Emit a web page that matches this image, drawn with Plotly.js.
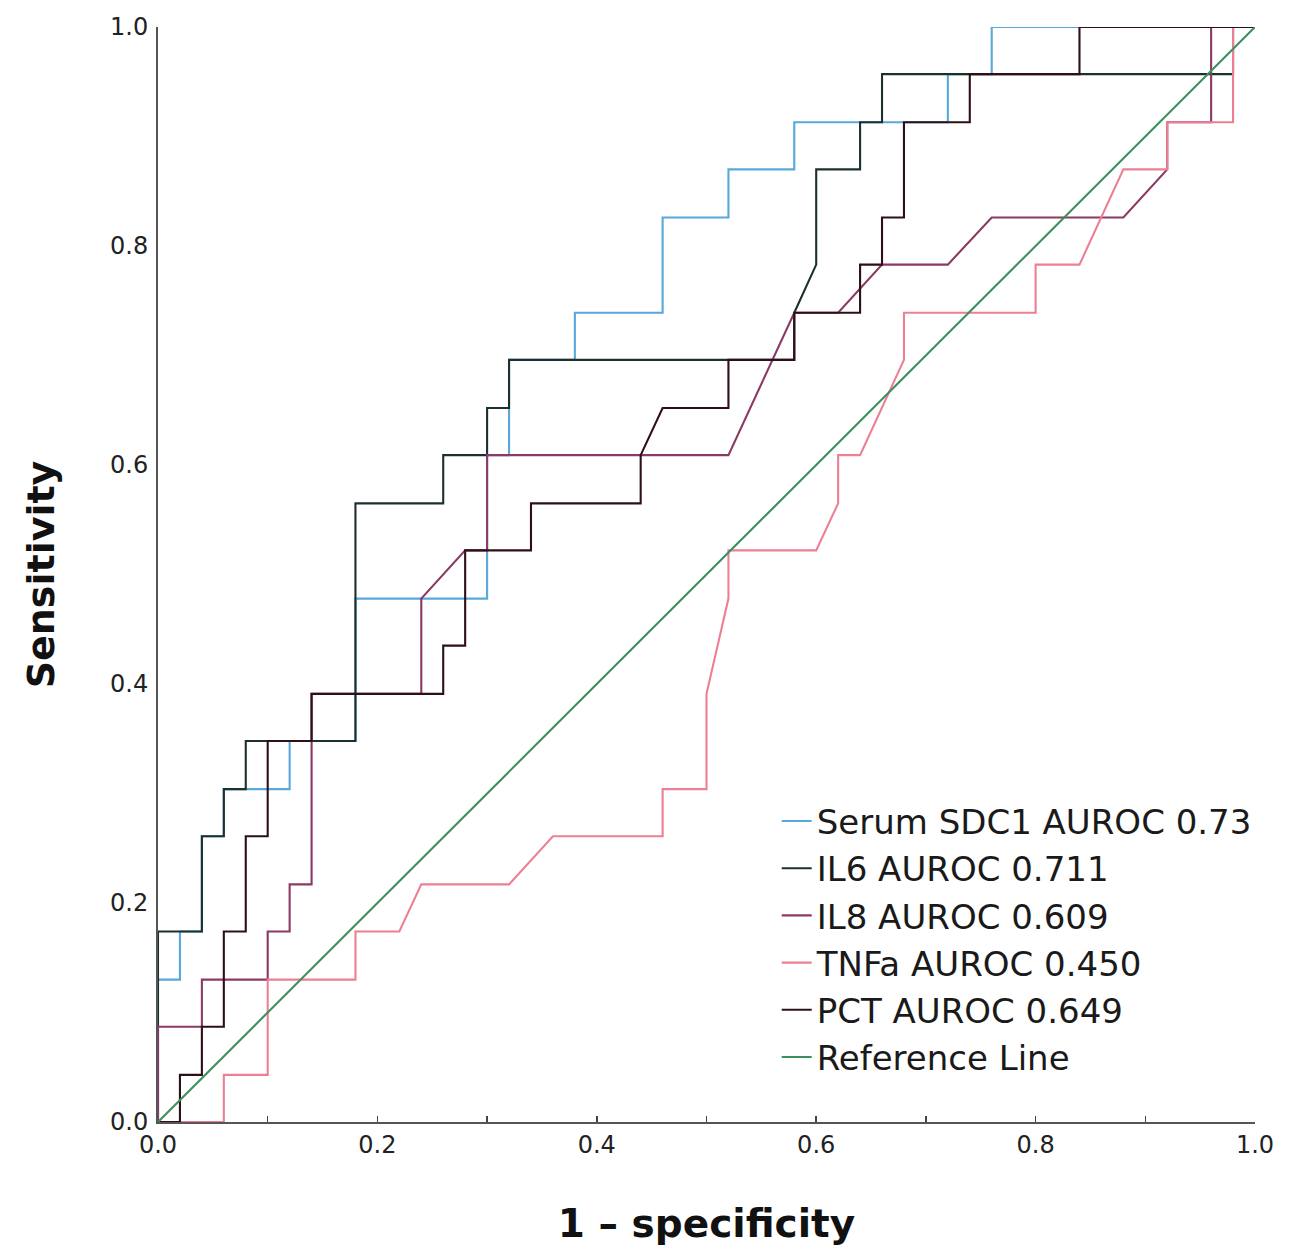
<!DOCTYPE html>
<html>
<head>
<meta charset="utf-8">
<script src="https://cdn.plot.ly/plotly-3.0.1.min.js"></script>
<style>html,body{margin:0;padding:0;background:#fff;}#chart{width:1291px;height:1257px;}</style>
</head>
<body>
<div id="chart"></div>
<script>
// ROC curve points (1 - specificity, sensitivity)
const sdc1X = [0,0,0.02,0.02,0.04,0.04,0.06,0.06,0.12,0.12,0.18,0.18,0.30,0.30,0.32,0.32,0.38,0.38,0.46,0.46,0.52,0.52,0.58,0.58,0.72,0.72,0.76,0.76,1];
const sdc1Y = [0,0.130,0.130,0.174,0.174,0.261,0.261,0.304,0.304,0.348,0.348,0.478,0.478,0.609,0.609,0.696,0.696,0.739,0.739,0.826,0.826,0.870,0.870,0.913,0.913,0.957,0.957,1,1];

const il6X = [0,0,0.04,0.04,0.06,0.06,0.08,0.08,0.18,0.18,0.26,0.26,0.30,0.30,0.32,0.32,0.58,0.58,0.60,0.60,0.64,0.64,0.66,0.66,0.98,0.98,1];
const il6Y = [0,0.174,0.174,0.261,0.261,0.304,0.304,0.348,0.348,0.565,0.565,0.609,0.609,0.652,0.652,0.696,0.696,0.739,0.783,0.870,0.870,0.913,0.913,0.957,0.957,1,1];

const il8X = [0,0,0.04,0.04,0.10,0.10,0.12,0.12,0.14,0.14,0.24,0.24,0.28,0.30,0.30,0.52,0.58,0.62,0.66,0.72,0.76,0.88,0.92,0.92,0.96,0.96,1];
const il8Y = [0,0.087,0.087,0.130,0.130,0.174,0.174,0.217,0.217,0.391,0.391,0.478,0.522,0.522,0.609,0.609,0.739,0.739,0.783,0.783,0.826,0.826,0.870,0.913,0.913,1,1];

const tnfX = [0,0.06,0.06,0.10,0.10,0.18,0.18,0.22,0.24,0.32,0.36,0.46,0.46,0.50,0.50,0.52,0.52,0.60,0.62,0.62,0.64,0.68,0.68,0.80,0.80,0.84,0.88,0.92,0.92,0.98,0.98,1];
const tnfY = [0,0,0.043,0.043,0.130,0.130,0.174,0.174,0.217,0.217,0.261,0.261,0.304,0.304,0.391,0.478,0.522,0.522,0.565,0.609,0.609,0.696,0.739,0.739,0.783,0.783,0.870,0.870,0.913,0.913,1,1];

const pctX = [0,0.02,0.02,0.04,0.04,0.06,0.06,0.08,0.08,0.10,0.10,0.14,0.14,0.26,0.26,0.28,0.28,0.34,0.34,0.44,0.44,0.46,0.52,0.52,0.58,0.58,0.64,0.64,0.66,0.66,0.68,0.68,0.74,0.74,0.84,0.84,1];
const pctY = [0,0,0.043,0.043,0.087,0.087,0.174,0.174,0.261,0.261,0.348,0.348,0.391,0.391,0.435,0.435,0.522,0.522,0.565,0.565,0.609,0.652,0.652,0.696,0.696,0.739,0.739,0.783,0.783,0.826,0.826,0.913,0.913,0.957,0.957,1,1];

const refX = [0,1];
const refY = [0,1];

const seriesNames = ["Serum SDC1 AUROC 0.73","IL6 AUROC 0.711","IL8 AUROC 0.609","TNFa AUROC 0.450","PCT AUROC 0.649","Reference Line"];
const xTickVals = [0,0.2,0.4,0.6,0.8,1.0];
const xTickText = ["0.0","0.2","0.4","0.6","0.8","1.0"];
const yTickVals = [0,0.2,0.4,0.6,0.8,1.0];
const yTickText = ["0.0","0.2","0.4","0.6","0.8","1.0"];

const colors = ["#58a8dc","#1c3030","#8a3a64","#ec8092","#2c1016","#3d8f5e"];
const FONT = "DejaVu Sans, Verdana, sans-serif";

const xs = [sdc1X, il6X, il8X, tnfX, pctX, refX];
const ys = [sdc1Y, il6Y, il8Y, tnfY, pctY, refY];

const traces = xs.map((x, i) => ({
  x: x, y: ys[i], type: "scatter", mode: "lines", name: seriesNames[i],
  line: {color: colors[i], width: 2.1, shape: "linear"},
  hoverinfo: "skip"
}));

const layout = {
  width: 1291, height: 1257,
  margin: {l: 158, r: 36, t: 27, b: 135},
  paper_bgcolor: "#fff", plot_bgcolor: "#fff",
  font: {family: FONT, color: "#222"},
  showlegend: true,
  legend: {
    x: 0.564, y: 0.301, xanchor: "left", yanchor: "top",
    font: {family: FONT, size: 34, color: "#1a1a1a"},
    bgcolor: "rgba(0,0,0,0)", tracegroupgap: 0, itemwidth: 30
  },
  xaxis: {
    range: [0, 1], showgrid: false, zeroline: false,
    showline: true, linecolor: "#555", linewidth: 2,
    tickmode: "array", tickvals: xTickVals, ticktext: xTickText,
    ticks: "inside", ticklen: 6, tickwidth: 1.5, tickcolor: "#444",
    minor: {dtick: 0.1, ticks: "inside", ticklen: 6, tickwidth: 1.5, tickcolor: "#444"},
    tickfont: {family: FONT, size: 24, color: "#222"},
    title: {text: "1 \u2013 specificity", font: {family: FONT, size: 39, color: "#111", weight: "bold"}, standoff: 52}
  },
  yaxis: {
    range: [0, 1], showgrid: false, zeroline: false,
    showline: true, linecolor: "#555", linewidth: 2,
    tickmode: "array", tickvals: yTickVals, ticktext: yTickText,
    ticks: "", ticklabelstandoff: 3,
    tickfont: {family: FONT, size: 24, color: "#222"},
    title: {text: "Sensitivity", font: {family: FONT, size: 38, color: "#111", weight: "bold"}, standoff: 44}
  }
};

Plotly.newPlot("chart", traces, layout, {displayModeBar: false, staticPlot: true});
</script>
</body>
</html>
